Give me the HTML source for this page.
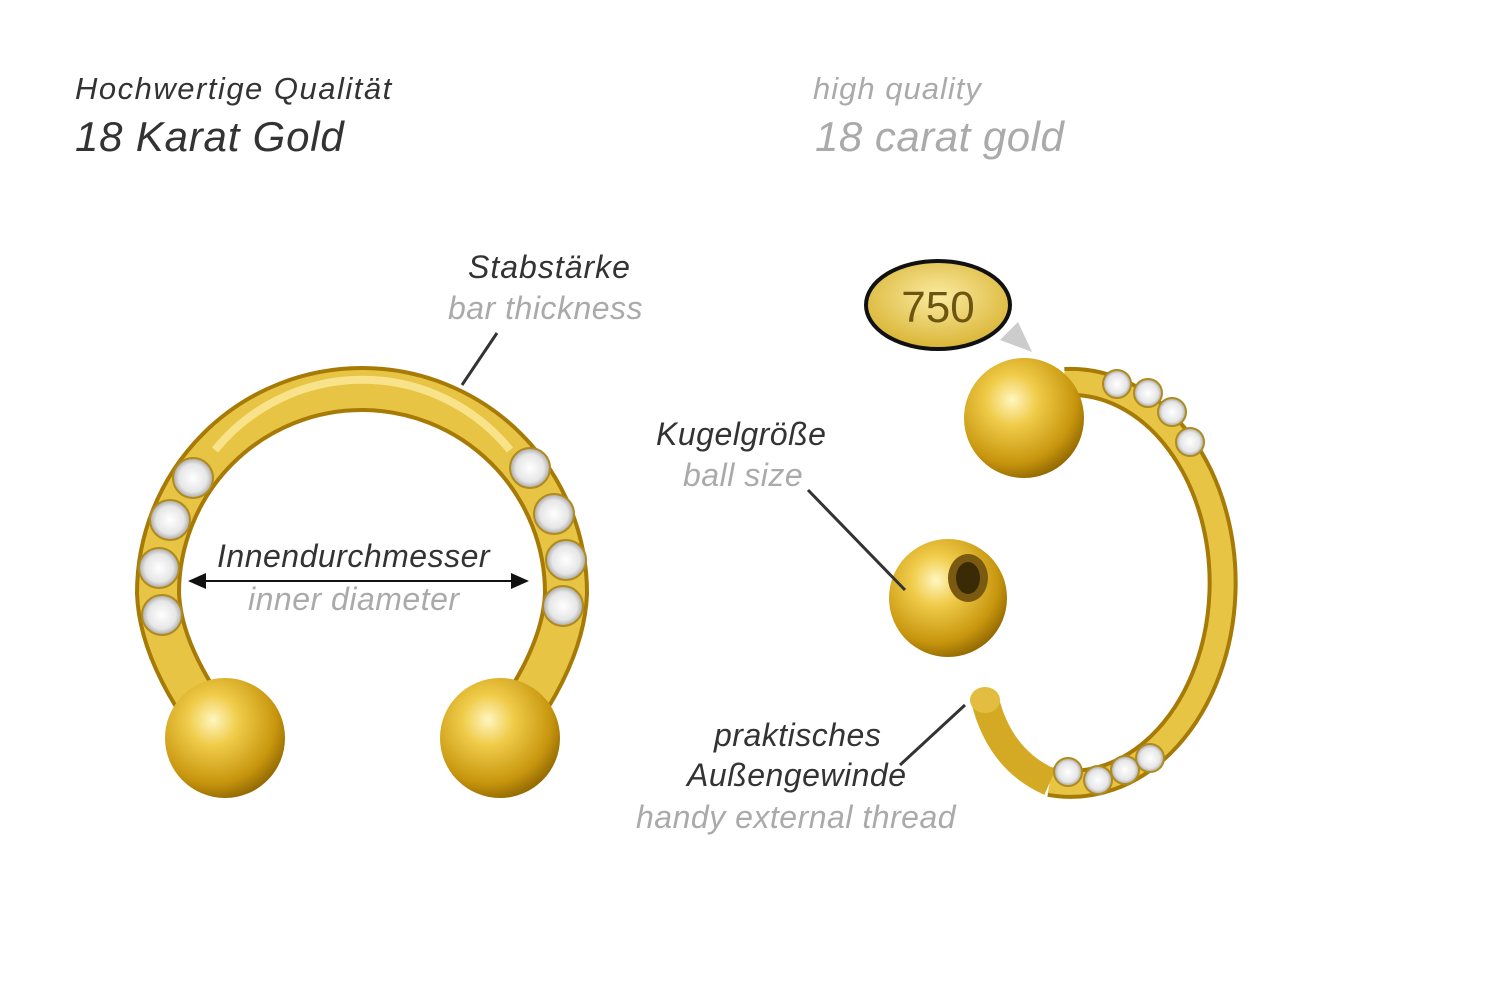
<!DOCTYPE html>
<html><head><meta charset="utf-8"><style>
body{margin:0;width:1500px;height:1001px;background:#fff;overflow:hidden;position:relative;font-family:"Liberation Sans",sans-serif;font-style:italic}
.t{position:absolute;white-space:nowrap;letter-spacing:0.5px}
.d{color:#333}.g{color:#aaa}
</style></head><body>
<div class="t d" style="left:75px;top:71px;font-size:31px;letter-spacing:1.5px">Hochwertige Qualität</div>
<div class="t d" style="left:75px;top:113px;font-size:42px;letter-spacing:0.8px">18 Karat Gold</div>
<div class="t g" style="left:813px;top:71px;font-size:31px;letter-spacing:1px">high quality</div>
<div class="t g" style="left:815px;top:113px;font-size:42px;letter-spacing:0.5px">18 carat gold</div>

<svg width="1500" height="1001" style="position:absolute;left:0;top:0">
<defs>
<radialGradient id="ball" cx="0.4" cy="0.35" r="0.7">
<stop offset="0" stop-color="#fff6c0"/><stop offset="0.3" stop-color="#f0cc4a"/><stop offset="0.75" stop-color="#c8960e"/><stop offset="1" stop-color="#8a6200"/></radialGradient>
<radialGradient id="gem" cx="0.5" cy="0.5" r="0.5"><stop offset="0" stop-color="#fff"/><stop offset="0.7" stop-color="#e6e6e6"/><stop offset="1" stop-color="#aaa"/></radialGradient>
<radialGradient id="oval" cx="0.5" cy="0.4" r="0.6"><stop offset="0" stop-color="#fbeaa0"/><stop offset="1" stop-color="#d9b535"/></radialGradient>
<marker id="ah" markerWidth="10" markerHeight="10" refX="8" refY="5" orient="auto-start-reverse"><path d="M0,1 L9,5 L0,9z" fill="#111"/></marker>
</defs>
<path d="M 210 720 Q 160 650 158 593 A 204 204 0 1 1 566 593 Q 564 650 515 720" fill="none" stroke="#a67a05" stroke-width="46"/>
<path d="M 210 720 Q 160 650 158 593 A 204 204 0 1 1 566 593 Q 564 650 515 720" fill="none" stroke="#e8c444" stroke-width="38"/>
<path d="M 215 450 A 190 190 0 0 1 510 450" fill="none" stroke="#f8e38a" stroke-width="8"/>
<g fill="url(#gem)" stroke="#b08a1a" stroke-width="2">
<circle cx="193" cy="478" r="20"/><circle cx="170" cy="520" r="20"/><circle cx="159" cy="568" r="20"/><circle cx="162" cy="615" r="20"/>
<circle cx="530" cy="468" r="20"/><circle cx="554" cy="514" r="20"/><circle cx="566" cy="560" r="20"/><circle cx="563" cy="606" r="20"/>
</g>
<circle cx="225" cy="738" r="60" fill="url(#ball)"/>
<circle cx="500" cy="738" r="60" fill="url(#ball)"/>
<line x1="190" y1="581" x2="527" y2="581" stroke="#111" stroke-width="2" marker-start="url(#ah)" marker-end="url(#ah)"/>
<line x1="497" y1="333" x2="462" y2="385" stroke="#333" stroke-width="3"/>
<path d="M 1065 382 A 152 201 0 1 1 1050 782" fill="none" stroke="#a67a05" stroke-width="30"/>
<path d="M 1065 382 A 152 201 0 1 1 1050 782" fill="none" stroke="#e8c444" stroke-width="22"/>
<path d="M 1050 782 Q 1000 760 985 700" fill="none" stroke="#d4aa25" stroke-width="28"/>
<ellipse cx="985" cy="700" rx="15" ry="13" fill="#e2bd40"/>
<g fill="url(#gem)" stroke="#b08a1a" stroke-width="2">
<circle cx="1117" cy="384" r="14"/><circle cx="1148" cy="393" r="14"/><circle cx="1172" cy="412" r="14"/><circle cx="1190" cy="442" r="14"/>
<circle cx="1068" cy="772" r="14"/><circle cx="1098" cy="780" r="14"/><circle cx="1125" cy="770" r="14"/><circle cx="1150" cy="758" r="14"/>
</g>
<circle cx="1024" cy="418" r="60" fill="url(#ball)"/>
<circle cx="948" cy="598" r="59" fill="url(#ball)"/>
<ellipse cx="968" cy="578" rx="20" ry="24" fill="#7a5a10"/>
<ellipse cx="968" cy="578" rx="12" ry="16" fill="#3a2a05"/>
<polygon points="1000,340 1032,352 1018,322" fill="#ccc"/>
<ellipse cx="938" cy="305" rx="72" ry="44" fill="url(#oval)" stroke="#111" stroke-width="4"/>
<text x="938" y="322" font-family="Liberation Sans" font-size="44" fill="#6b5510" text-anchor="middle" font-style="normal">750</text>
<line x1="808" y1="490" x2="905" y2="590" stroke="#333" stroke-width="3"/>
<line x1="900" y1="765" x2="965" y2="705" stroke="#333" stroke-width="3"/>
</svg>

<div class="t d" style="left:468px;top:249px;font-size:32px;letter-spacing:1px">Stabstärke</div>
<div class="t g" style="left:448px;top:290px;font-size:32px">bar thickness</div>
<div class="t d" style="left:217px;top:538px;font-size:32px">Innendurchmesser</div>
<div class="t g" style="left:248px;top:581px;font-size:32px">inner diameter</div>
<div class="t d" style="left:656px;top:416px;font-size:32px">Kugelgröße</div>
<div class="t g" style="left:683px;top:457px;font-size:32px">ball size</div>
<div class="t d" style="left:714px;top:717px;font-size:32px">praktisches</div>
<div class="t d" style="left:687px;top:757px;font-size:32px">Außengewinde</div>
<div class="t g" style="left:636px;top:799px;font-size:32px">handy external thread</div>
</body></html>
